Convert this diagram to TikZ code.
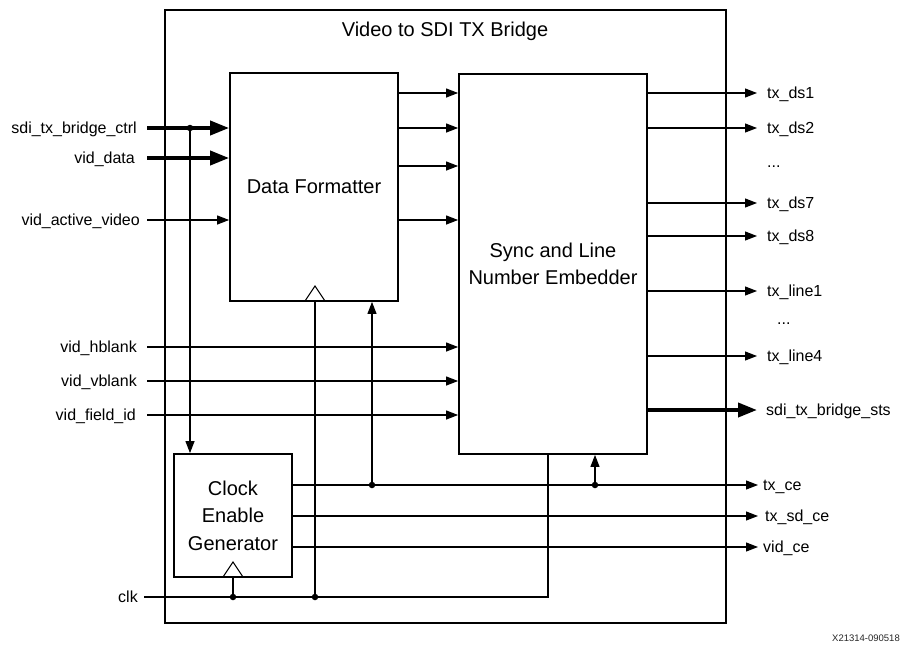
\documentclass[tikz,border=0pt]{standalone}
\usepackage{fontspec}
\setmainfont{Liberation Sans}
\usetikzlibrary{arrows.meta}
\begin{document}
\begin{tikzpicture}[x=1pt,y=-1pt,
  wire/.style={line width=1.1pt},
  bus/.style={line width=3.8pt},
  sig/.style={wire,-{Triangle[length=12pt,width=9pt]}},
  bussig/.style={bus,-{Triangle[length=19pt,width=14pt]}},
  block/.style={draw,line width=1.8pt,align=center,inner sep=0pt,
    font=\fontsize{20}{27.5}\selectfont},
  lbl/.style={inner sep=0pt,text height=11.5pt,text depth=0pt,
    font=\fontsize{16}{18}\selectfont},
  junction/.style={circle,fill,inner sep=0pt,minimum size=6.5pt},
  clocktri/.style={draw,line width=1pt,line join=miter}]

\useasboundingbox (0,0) rectangle (903,646);

% bridge outline and title
\node[draw,line width=2.2pt,minimum width=561pt,minimum height=613pt,inner sep=0pt]
  (bridge) at (445.5,316.5) {};
\node[font=\fontsize{20}{24}\selectfont] (title) at (445,31) {Video to SDI TX Bridge};

% functional blocks
\node[block,minimum width=168pt,minimum height=228pt] (df) at (314,187) {Data Formatter};
\node[block,minimum width=188pt,minimum height=380pt] (se) at (553,264) {Sync and Line\\Number Embedder};
\node[block,minimum width=118pt,minimum height=123pt] (ceg) at (233,515.5) {Clock\\Enable\\Generator};

% clock input markers
\draw[clocktri] (305,301) -- (315,286) -- (325,301);
\draw[clocktri] (223,577) -- (233,562) -- (243,577);

% input port labels
\coordinate (inx) at (147,0);
\node[lbl,anchor=east] (ctrl)   at (137,128) {sdi\_tx\_bridge\_ctrl};
\node[lbl,anchor=east] (vdata)  at (135,158) {vid\_data};
\node[lbl,anchor=east] (vact)   at (140,220) {vid\_active\_video};
\node[lbl,anchor=east] (hblank) at (137,347) {vid\_hblank};
\node[lbl,anchor=east] (vblank) at (137,381) {vid\_vblank};
\node[lbl,anchor=east] (field)  at (136,415) {vid\_field\_id};
\node[lbl,anchor=east] (clk)    at (138,597) {clk};

% inputs to the data formatter
\draw[bussig] (ctrl.east -| inx) -- (ctrl.east -| df.west);
\draw[bussig] (vdata.east -| inx) -- (vdata.east -| df.west);
\draw[sig] (vact.east -| inx) -- (vact.east -| df.west);

% timing inputs to the embedder
\draw[sig] (hblank.east -| inx) -- (hblank.east -| se.west);
\draw[sig] (vblank.east -| inx) -- (vblank.east -| se.west);
\draw[sig] (field.east -| inx) -- (field.east -| se.west);

% formatter to embedder
\foreach \yy in {93,128,166,220}
  \draw[sig] (df.east |- 0,\yy) -- (se.west |- 0,\yy);

% control tap down to the clock enable generator
\node[junction] (tap) at (190,128) {};
\draw[sig] (tap.center) -- (tap.center |- ceg.north);

% output port labels
\node[lbl,anchor=west] (ds1)   at (767,93)  {tx\_ds1};
\node[lbl,anchor=west] (ds2)   at (767,128) {tx\_ds2};
\node[lbl,anchor=west] (dotsa) at (767,161.5) {...};
\node[lbl,anchor=west] (ds7)   at (767,203) {tx\_ds7};
\node[lbl,anchor=west] (ds8)   at (767,236) {tx\_ds8};
\node[lbl,anchor=west] (ln1)   at (767,291) {tx\_line1};
\node[lbl,anchor=west] (dotsb) at (777,319) {...};
\node[lbl,anchor=west] (ln4)   at (767,356) {tx\_line4};
\node[lbl,anchor=west] (sts)   at (766,410) {sdi\_tx\_bridge\_sts};
\node[lbl,anchor=west] (txce)  at (763,485) {tx\_ce};
\node[lbl,anchor=west] (sdce)  at (765,516) {tx\_sd\_ce};
\node[lbl,anchor=west] (vidce) at (763,547) {vid\_ce};

% embedder outputs
\foreach \o in {ds1,ds2,ds7,ds8,ln1,ln4}
  \draw[sig] (\o.west -| se.east) -- ([xshift=-10pt]\o.west);
\draw[bussig] (sts.west -| se.east) -- ([xshift=-9pt]sts.west);

% clock enable outputs
\draw[sig] (txce.west -| ceg.east) -- ([xshift=-5pt]txce.west);
\draw[sig] (sdce.west -| ceg.east) -- ([xshift=-7pt]sdce.west);
\draw[sig] (vidce.west -| ceg.east) -- ([xshift=-5pt]vidce.west);
\node[junction] (cea) at (372,485) {};
\node[junction] (ceb) at (595,485) {};
\draw[sig] (cea.center) -- (cea.center |- df.south);
\draw[sig] (ceb.center) -- (ceb.center |- se.south);

% clock distribution
\coordinate (clkturn) at (548,597);
\draw[wire] ([xshift=6pt]clk.east) -- (clkturn) -- (clkturn |- se.south);
\node[junction] (cka) at (233,597) {};
\node[junction] (ckb) at (315,597) {};
\draw[wire] (cka.center) -- (cka.center |- ceg.south);
\draw[wire] (ckb.center) -- (ckb.center |- df.south);

% drawing number
\node[font=\fontsize{9.5}{11}\selectfont,text=black!85] (fig) at (866,638) {X21314-090518};
\end{tikzpicture}
\end{document}
